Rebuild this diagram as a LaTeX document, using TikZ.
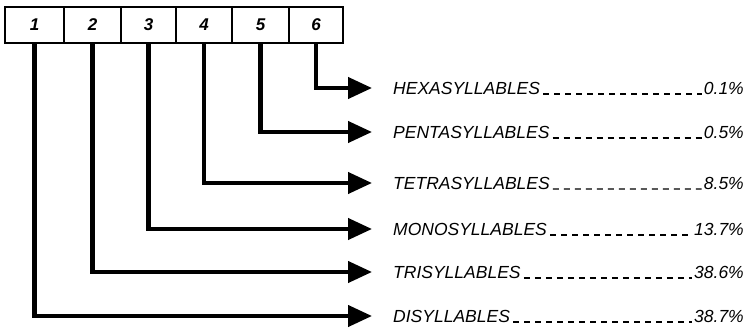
\documentclass[tikz,border=0pt]{standalone}
\usepackage{fontspec}
\setmainfont{Liberation Sans}
\usetikzlibrary{arrows.meta}

\begin{document}
\begin{tikzpicture}[x=1pt, y=-1pt, font=\fontsize{17.5}{20}\selectfont\itshape,
  cell/.style={draw, line width=1.8pt, minimum height=36pt, inner sep=0pt,
               font=\fontsize{17}{20}\selectfont\bfseries\itshape},
  feed/.style={line width=4.2pt, -{Triangle[length=24pt,width=21pt]}},
  rowtext/.style={inner sep=0pt},
  leader/.style={line width=1.3pt, dash pattern=on 6pt off 5pt}]

  \useasboundingbox (0,0) rectangle (748,329);

  % ── Numbered cells ───────────────────────────────────────────────
  \foreach \i/\cx/\w in {1/34.5/59,2/92.5/57,3/148.5/55,4/204/56,5/260.5/57,6/316/54}{
    \node[cell, minimum width=\w pt] (b\i) at (\cx,25) {\i};
  }

  % ── Row labels and shares ────────────────────────────────────────
  \node[rowtext, anchor=west] (hexa)  at (393, 88) {HEXASYLLABLES};
  \node[rowtext, anchor=east] (hexap) at (744, 88) {0.1\%};
  \node[rowtext, anchor=west] (penta)  at (393,132) {PENTASYLLABLES};
  \node[rowtext, anchor=east] (pentap) at (744,132) {0.5\%};
  \node[rowtext, anchor=west] (tetra)  at (393,183) {TETRASYLLABLES};
  \node[rowtext, anchor=east] (tetrap) at (744,183) {8.5\%};
  \node[rowtext, anchor=west] (mono)  at (393,229) {MONOSYLLABLES};
  \node[rowtext, anchor=east] (monop) at (744,229) {13.7\%};
  \node[rowtext, anchor=west] (tri)  at (393,272) {TRISYLLABLES};
  \node[rowtext, anchor=east] (trip) at (744,272) {38.6\%};
  \node[rowtext, anchor=west] (di)  at (393,316) {DISYLLABLES};
  \node[rowtext, anchor=east] (dip) at (744,316) {38.7\%};

  % ── Dashed leaders ───────────────────────────────────────────────
  \foreach \r in {hexa,penta,tetra,mono,tri,di}{
    \draw[leader] ([xshift=3pt]\r.base east) -- ([xshift=-2pt]\r p.base west);
  }

  % ── Feed arrows (cell -> row) ────────────────────────────────────
  \draw[feed] (b6.south) |- ([xshift=-21pt]hexa.west);
  \draw[feed] (b5.south) |- ([xshift=-21pt]penta.west);
  \draw[feed] (b4.south) |- ([xshift=-21pt]tetra.west);
  \draw[feed] (b3.south) |- ([xshift=-21pt]mono.west);
  \draw[feed] (b2.south) |- ([xshift=-21pt]tri.west);
  \draw[feed] (b1.south) |- ([xshift=-21pt]di.west);

\end{tikzpicture}
\end{document}
